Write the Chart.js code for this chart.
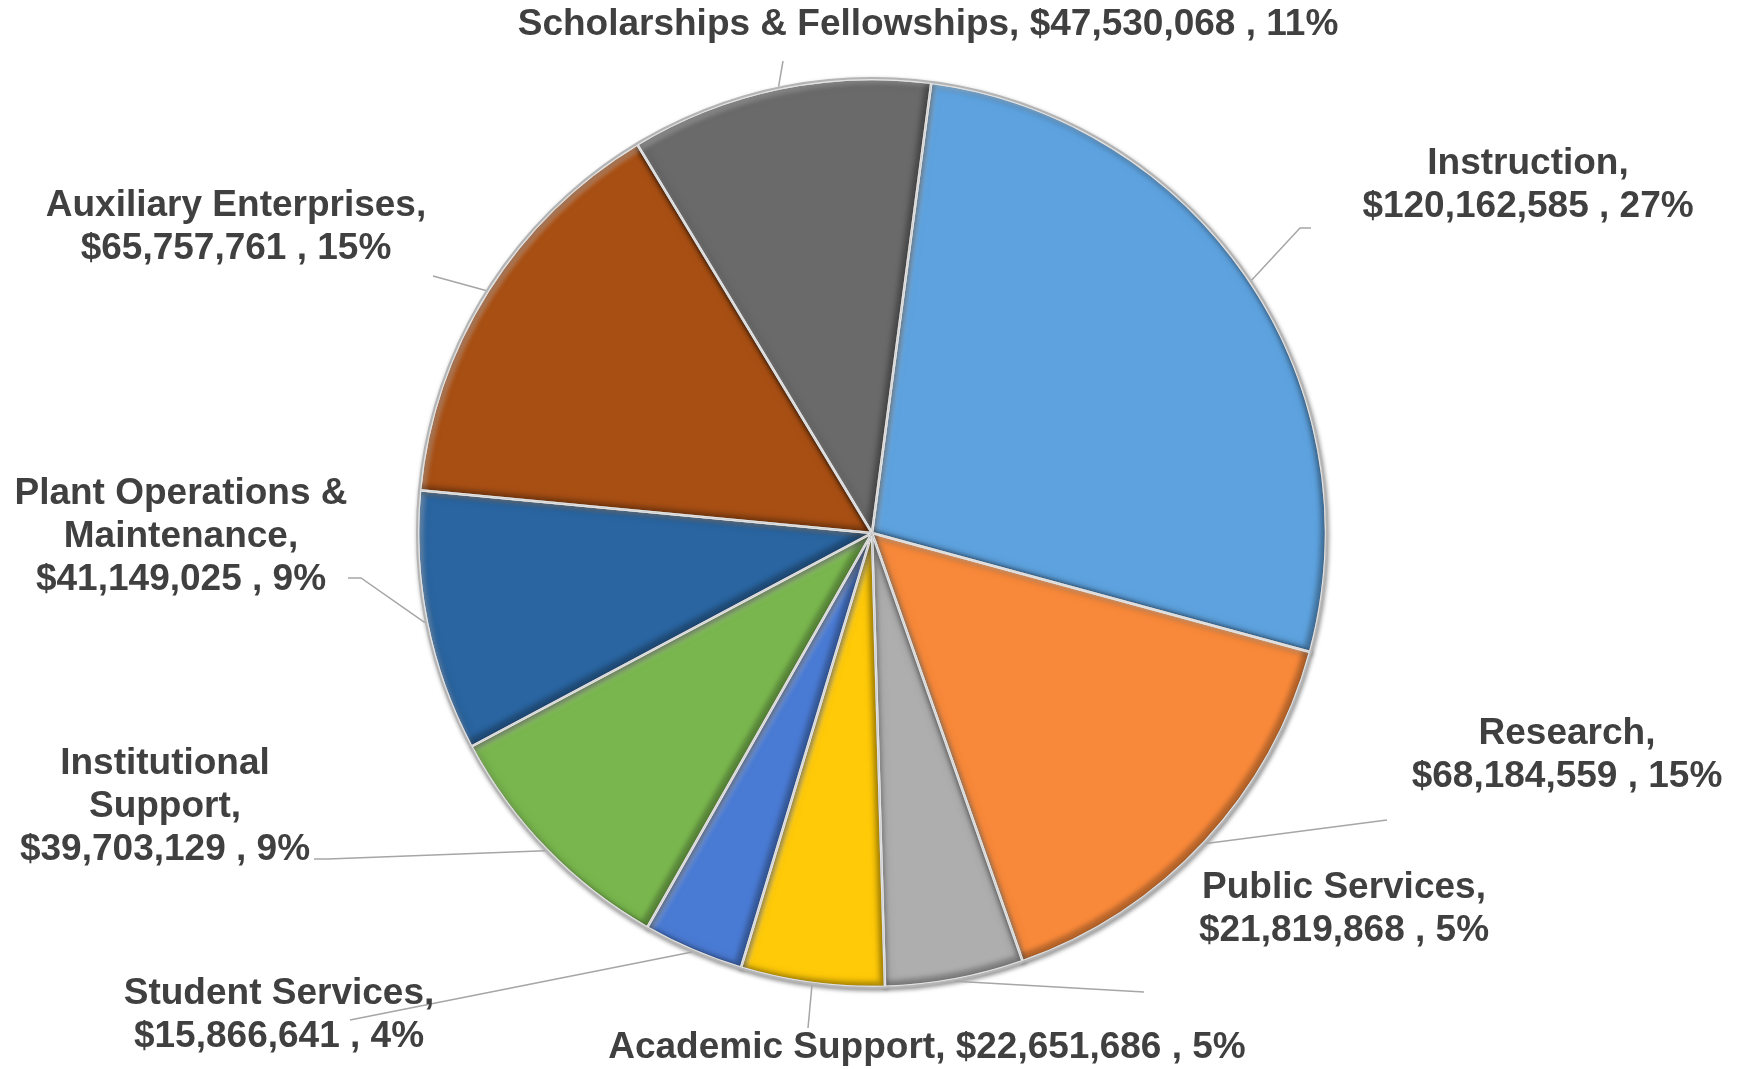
<!DOCTYPE html>
<html>
<head>
<meta charset="utf-8">
<script src="https://cdn.jsdelivr.net/npm/chart.js@4.4.0/dist/chart.umd.min.js"></script>
<style>
  html, body { margin: 0; padding: 0; background: #ffffff; }
</style>
</head>
<body>
<canvas id="pie" width="1742" height="1069"></canvas>
<script>

categories = ['Instruction', 'Research', 'Public Services', 'Academic Support', 'Student Services',
              'Institutional Support', 'Plant Operations & Maintenance', 'Auxiliary Enterprises',
              'Scholarships & Fellowships'];
amounts = [120162585, 68184559, 21819868, 22651686, 15866641, 39703129, 41149025, 65757761, 47530068];
sliceColors = ['#5ea3e0', '#f8893a', '#aeaeae', '#ffca08', '#4a7bd4', '#79b74e', '#2a65a1', '#a84f14', '#6a6a6a'];

// label placement: x = centre of text, y = middle of first line
// words: 0 = name and value on one line, -1 = name line then value line,
//        n = first n words of the name, then the rest, then the value
// lead: points from the label back towards the slice (last one joins the pie edge)
labelPlace = [
  {x: 1528, y: 164, words: -1, lead: [[1311, 228], [1300, 228]]},
  {x: 1567, y: 734, words: -1, lead: [[1387, 820]]},
  {x: 1344, y: 888, words: -1, lead: [[1144, 992]]},
  {x: 927,  y: 1048, words: 0, lead: [[808, 1028]]},
  {x: 279,  y: 994, words: -1, lead: [[350, 1020]]},
  {x: 165,  y: 764, words: 1,  lead: [[314, 859], [328, 859]]},
  {x: 181,  y: 494, words: 3,  lead: [[348, 578], [361, 578]]},
  {x: 236,  y: 206, words: -1, lead: [[433, 276]]},
  {x: 928,  y: 25,  words: 0,  lead: [[783, 61]]}
];

total = amounts.reduce((a, b) => a + b, 0);

function labelLines(i)
{
    var value = '$' + amounts[i].toLocaleString('en-US') + ' , ' + Math.round(amounts[i] / total * 100) + '%';
    var name = categories[i];
    var w = labelPlace[i].words;
    if (w == 0) return [name + ', ' + value];
    if (w < 0) return [name + ',', value];
    var parts = name.split(' ');
    return [parts.slice(0, w).join(' '), parts.slice(w).join(' ') + ',', value];
}

function slicePath(ctx, p, dx, dy)
{
    dx = dx || 0;
    dy = dy || 0;
    ctx.moveTo(p.x + dx, p.y + dy);
    ctx.arc(p.x + dx, p.y + dy, p.outerRadius, p.startAngle, p.endAngle);
    ctx.closePath();
}

// fill the part of the slice not covered by a shifted copy of itself
function edgeBand(ctx, p, dx, dy, color)
{
    ctx.beginPath();
    ctx.rect(0, 0, ctx.canvas.width, ctx.canvas.height);
    slicePath(ctx, p, dx, dy);
    ctx.fillStyle = color;
    ctx.fill('evenodd');
}

// soft drop shadow under the slices
var shadowPlugin = {
    id: 'shadow',
    beforeDatasetsDraw(chart) {
        var ctx = chart.ctx;
        ctx.save();
        ctx.shadowColor = 'rgba(0, 0, 0, 0.45)';
        ctx.shadowBlur = 5;
        ctx.shadowOffsetX = 1;
        ctx.shadowOffsetY = 2;
    },
    afterDatasetsDraw(chart) {
        chart.ctx.restore();
    }
};

// bevelled edges: light along the upper-left, dark along the lower-right
var bevelPlugin = {
    id: 'bevel',
    afterDatasetsDraw(chart) {
        var ctx = chart.ctx;
        chart.getDatasetMeta(0).data.forEach(arc => {
            var p = arc.getProps(['x', 'y', 'startAngle', 'endAngle', 'outerRadius'], true);
            ctx.save();
            ctx.beginPath();
            slicePath(ctx, p);
            ctx.clip();
            ctx.filter = 'blur(2px)';
            edgeBand(ctx, p, 5, 5, 'rgba(255, 255, 255, 0.30)');
            edgeBand(ctx, p, -6, -6, 'rgba(0, 0, 0, 0.22)');
            ctx.filter = 'blur(4px)';
            ctx.lineWidth = 10;
            ctx.strokeStyle = 'rgba(0, 0, 0, 0.08)';
            ctx.beginPath();
            slicePath(ctx, p);
            ctx.stroke();
            ctx.filter = 'none';
            ctx.lineWidth = 2.5;
            ctx.strokeStyle = '#e2e2e2';
            ctx.beginPath();
            slicePath(ctx, p);
            ctx.stroke();
            ctx.restore();
        });
        // grey rim round the outside of the pie
        var p0 = chart.getDatasetMeta(0).data[0].getProps(['x', 'y', 'outerRadius'], true);
        ctx.save();
        ctx.strokeStyle = '#b4b4b4';
        ctx.lineWidth = 2;
        ctx.beginPath();
        ctx.arc(p0.x, p0.y, p0.outerRadius + 1, 0, Math.PI * 2);
        ctx.stroke();
        ctx.restore();
    }
};

var labelPlugin = {
    id: 'sliceLabels',
    afterDraw(chart) {
        var ctx = chart.ctx;
        ctx.save();
        chart.getDatasetMeta(0).data.forEach((arc, i) => {
            var p = arc.getProps(['x', 'y', 'startAngle', 'endAngle', 'outerRadius'], true);
            var mid = (p.startAngle + p.endAngle) / 2;
            var ax = p.x + Math.cos(mid) * (p.outerRadius + 2);
            var ay = p.y + Math.sin(mid) * (p.outerRadius + 2);
            var place = labelPlace[i];

            ctx.strokeStyle = '#a6a6a6';
            ctx.lineWidth = 1.5;
            ctx.beginPath();
            ctx.moveTo(place.lead[0][0], place.lead[0][1]);
            for (var k = 1; k < place.lead.length; k++)
                ctx.lineTo(place.lead[k][0], place.lead[k][1]);
            ctx.lineTo(ax, ay);
            ctx.stroke();

            ctx.fillStyle = '#404040';
            ctx.font = 'bold 37px "Liberation Sans", Arial, sans-serif';
            ctx.textAlign = 'center';
            ctx.textBaseline = 'middle';
            labelLines(i).forEach((line, j) => {
                ctx.fillText(line, place.x, place.y + j * 43);
            });
        });
        ctx.restore();
    }
};

new Chart(document.getElementById('pie').getContext('2d'), {
    type: 'pie',
    data: {
        labels: categories,
        datasets: [{
            data: amounts,
            backgroundColor: sliceColors,
            borderColor: '#e2e2e2',
            borderWidth: 2.5,
            radius: 454
        }]
    },
    options: {
        responsive: false,
        animation: false,
        rotation: 7.5,
        layout: {padding: {left: 2, right: 0, top: 0, bottom: 3}},
        plugins: {
            legend: {display: false},
            tooltip: {enabled: false}
        }
    },
    plugins: [shadowPlugin, bevelPlugin, labelPlugin]
});
</script>
</body>
</html>
